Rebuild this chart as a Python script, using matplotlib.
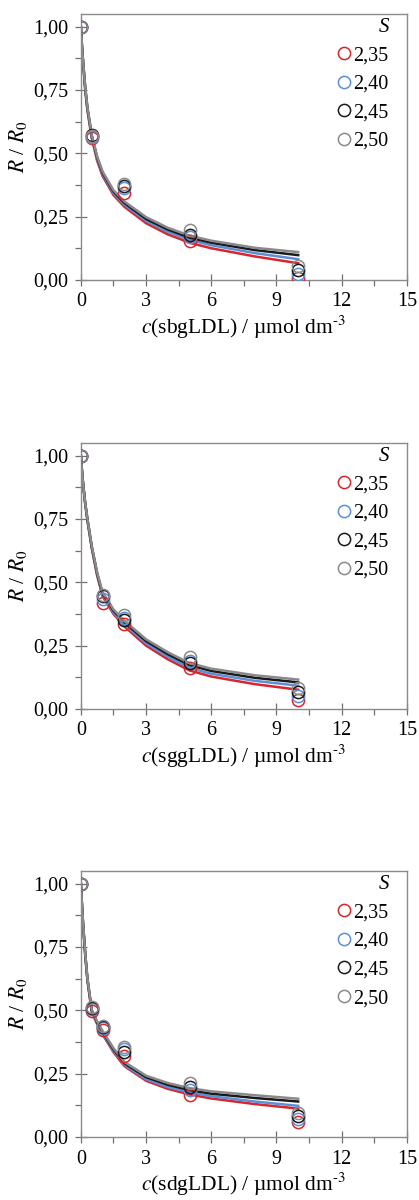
"""Relative response R/R0 vs LDL concentration for three glycated LDL forms."""

import matplotlib

matplotlib.use("Agg")
import matplotlib.pyplot as plt
from matplotlib.ticker import FuncFormatter, MultipleLocator

plt.rcParams["font.family"] = ["Liberation Serif", "DejaVu Serif"]
plt.rcParams["mathtext.fontset"] = "stix"

# ---- Data ----
S_LABELS = ["2,35", "2,40", "2,45", "2,50"]
COLORS = ["#d8262b", "#5b8fd9", "#1a1a1a", "#8a8a8a"]
SAMPLES = ["sbgLDL", "sggLDL", "sdgLDL"]

# measured points
C_SBG = [0, 0.5, 2, 5, 10]
Y_SBG = [
    [1.0, 0.559, 0.345, 0.153, 0.008],
    [1.0, 0.565, 0.363, 0.170, 0.024],
    [1.0, 0.572, 0.372, 0.179, 0.041],
    [1.0, 0.570, 0.380, 0.196, 0.055],
]
C_SGG = [0, 1, 2, 5, 10]
Y_SGG = [
    [1.0, 0.418, 0.335, 0.162, 0.037],
    [1.0, 0.434, 0.360, 0.188, 0.050],
    [1.0, 0.447, 0.350, 0.180, 0.065],
    [1.0, 0.450, 0.370, 0.207, 0.083],
]
C_SDG = [0, 0.5, 1, 2, 5, 10]
Y_SDG = [
    [1.0, 0.499, 0.423, 0.319, 0.167, 0.061],
    [1.0, 0.505, 0.430, 0.349, 0.186, 0.070],
    [1.0, 0.510, 0.436, 0.337, 0.197, 0.084],
    [1.0, 0.512, 0.440, 0.357, 0.213, 0.094],
]

# fitted curves
C_FIT = [0, 0.05, 0.1, 0.2, 0.3, 0.5, 0.75, 1, 1.5, 2, 3, 4, 5, 6, 8, 10]
FIT_SBG = [
    [1.0, 0.92, 0.86, 0.75, 0.67, 0.56, 0.470, 0.410, 0.335, 0.289, 0.224, 0.180, 0.147, 0.125, 0.093, 0.066],
    [1.0, 0.92, 0.86, 0.755, 0.675, 0.565, 0.477, 0.417, 0.342, 0.297, 0.233, 0.190, 0.158, 0.137, 0.106, 0.082],
    [1.0, 0.925, 0.865, 0.76, 0.68, 0.57, 0.483, 0.423, 0.349, 0.304, 0.241, 0.199, 0.167, 0.147, 0.118, 0.098],
    [1.0, 0.925, 0.865, 0.762, 0.683, 0.573, 0.487, 0.428, 0.354, 0.310, 0.248, 0.206, 0.175, 0.155, 0.127, 0.110],
]
FIT_SGG = [
    [1.0, 0.94, 0.89, 0.81, 0.745, 0.635, 0.525, 0.445, 0.375, 0.326, 0.250, 0.196, 0.152, 0.128, 0.098, 0.076],
    [1.0, 0.94, 0.89, 0.81, 0.748, 0.638, 0.530, 0.450, 0.381, 0.334, 0.259, 0.206, 0.162, 0.139, 0.111, 0.092],
    [1.0, 0.94, 0.89, 0.812, 0.75, 0.641, 0.535, 0.455, 0.388, 0.342, 0.268, 0.216, 0.173, 0.150, 0.123, 0.105],
    [1.0, 0.94, 0.89, 0.812, 0.752, 0.644, 0.539, 0.460, 0.393, 0.348, 0.275, 0.224, 0.181, 0.159, 0.133, 0.116],
]
FIT_SDG = [
    [1.0, 0.915, 0.84, 0.72, 0.62, 0.495, 0.445, 0.405, 0.335, 0.280, 0.222, 0.190, 0.168, 0.152, 0.130, 0.112],
    [1.0, 0.915, 0.84, 0.72, 0.622, 0.497, 0.448, 0.409, 0.340, 0.285, 0.228, 0.197, 0.176, 0.161, 0.140, 0.123],
    [1.0, 0.918, 0.843, 0.724, 0.625, 0.500, 0.452, 0.414, 0.346, 0.291, 0.236, 0.206, 0.185, 0.171, 0.154, 0.140],
    [1.0, 0.918, 0.845, 0.726, 0.628, 0.503, 0.456, 0.418, 0.351, 0.296, 0.242, 0.213, 0.193, 0.180, 0.165, 0.151],
]

PANELS = [
    (SAMPLES[0], C_SBG, Y_SBG, FIT_SBG, 0.7667),
    (SAMPLES[1], C_SGG, Y_SGG, FIT_SGG, 0.4092),
    (SAMPLES[2], C_SDG, Y_SDG, FIT_SDG, 0.0525),
]

comma = FuncFormatter(lambda v, _: f"{v:.2f}".replace(".", ","))

fig = plt.figure(figsize=(4.19, 12.0), dpi=100)
for name, c_pts, y_pts, fits, bottom in PANELS:
    ax = fig.add_axes([0.193, bottom, 0.778, 0.2217])
    for fit, col in zip(fits, COLORS):
        ax.plot(C_FIT, fit, color=col, lw=1.8, zorder=2)
    for y, col, lab in zip(y_pts, COLORS, S_LABELS):
        ax.plot(c_pts, y, "o", ms=8.8, mfc="none", mec=col, mew=1.1, label=lab, zorder=3)

    ax.set_xlim(0, 15)
    ax.set_ylim(0, 1.05)
    ax.xaxis.set_major_locator(MultipleLocator(3))
    ax.xaxis.set_minor_locator(MultipleLocator(1.5))
    ax.yaxis.set_major_locator(MultipleLocator(0.25))
    ax.yaxis.set_minor_locator(MultipleLocator(0.125))
    ax.yaxis.set_major_formatter(comma)
    ax.tick_params(which="major", direction="inout", length=8, width=0.9, color="#707070",
                   labelsize=14.5, pad=5)
    ax.tick_params(which="minor", direction="out", length=4, width=0.9, color="#707070")
    for sp in ax.spines.values():
        sp.set_color("#8a8a8a")
        sp.set_linewidth(1.0)

    ax.set_xlabel(f"$c$({name}) / µmol dm$^{{\\text{{-3}}}}$", fontsize=15.5, labelpad=2)
    ax.set_ylabel(r"$R$ / $R_0$", fontsize=15.5, labelpad=3)

    leg = ax.legend(title="S", loc="upper right", bbox_to_anchor=(0.951, 0.993),
                    frameon=False, fontsize=14.5, handlelength=0.6, handletextpad=0.2,
                    labelspacing=0.47, borderaxespad=0, borderpad=0.1, title_fontsize=15)
    leg.get_title().set_fontstyle("italic")
    leg._legend_box.align = "right"

fig.savefig("out.png", dpi=100)
